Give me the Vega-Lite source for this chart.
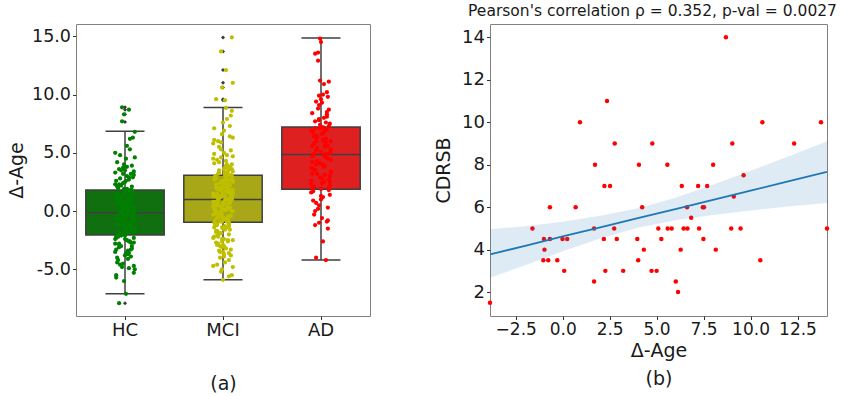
{
  "$schema": "https://vega.github.io/schema/vega-lite/v6.json",
  "padding": {"left": 7, "top": 3, "right": 0, "bottom": 0},
  "background": "white",
  "spacing": 120,
  "bounds": "flush",
  "config": {
    "font": "DejaVu Sans",
    "view": {"stroke": "#808080", "strokeWidth": 1},
    "axis": {"labelFont": "DejaVu Sans", "titleFont": "DejaVu Sans", "labelColor": "#1a1a1a", "titleColor": "#1a1a1a", "titleFontWeight": "normal", "grid": false, "domain": false, "tickColor": "#333", "tickSize": 3.5, "labelPadding": 2}
  },
  "datasets": {
    "box": [
      {"g": "HC", "q1": -2.05, "med": -0.15, "q3": 1.8, "lo": -7.1, "hi": 6.85},
      {"g": "MCI", "q1": -0.95, "med": 1.0, "q3": 3.08, "lo": -5.9, "hi": 8.88},
      {"g": "AD", "q1": 1.88, "med": 4.85, "q3": 7.22, "lo": -4.2, "hi": 14.85}
    ],
    "out": [
      {"g": "HC", "v": 8.9}, {"g": "HC", "v": 8.7}, {"g": "HC", "v": 8.3}, {"g": "HC", "v": 7.65}, {"g": "HC", "v": -7.9},
      {"g": "MCI", "v": 9.5}, {"g": "MCI", "v": 9.6}, {"g": "MCI", "v": 10.6}, {"g": "MCI", "v": 11.0}, {"g": "MCI", "v": 12.1}, {"g": "MCI", "v": 13.7}, {"g": "MCI", "v": 14.9}
    ],
    "pts": [
      {"g": "HC", "v": [-0.2, 1.5, -2.3, 3.2, -1.1, 0.6, -3.8, 2.1, -0.7, 4.5, -2.8, 0.9, -4.6, 1.2, -1.6, 2.9, -0.4, 5.6, -3.1, 0.3, -1.9, 1.8, -5.7, 0.1, -2.6, 3.6, -0.9, 2.4, -4.1, 1.0, -1.3, 6.3, -2.1, 0.5, -3.5, 3.0, -0.1, -4.9, 1.4, -1.7],
       "j": [3,-7,9,-2,5,-9,0,7,-4,1,-10,6,-5,8,-1,4,-8,2,-6,10,-3,7,-9,1,5,-6,9,-2,3,-7,0,8,-4,6,-10,2,-5,4,-1,10]},
      {"g": "HC", "v": [0.8, -2.5, 2.6, -0.5, 4.0, -3.3, 1.1, -1.0, 6.8, -2.0, 0.2, -4.4, 1.7, -0.3, 3.4, -2.9, 0.4, -1.4, 5.0, -3.7, 2.2, -0.8, -6.0, 1.3, -2.2, 3.8, -1.2, 0.0, -4.8, 2.7, -0.6, 1.6, -3.0, 4.8, -1.8, 0.7, -5.3, 2.0, -2.4, 6.2],
       "j": [-5,2,-9,8,-1,6,-7,4,10,-3,1,-8,5,-2,9,-6,0,7,-10,3,-4,8,-1,6,-9,2,-6,10,-3,4,-8,1,7,-5,3,-2,9,-7,0,5]},
      {"g": "HC", "v": [-0.9, 1.9, -3.6, 0.6, -1.5, 3.3, -2.7, 1.0, -0.2, 2.5, -4.2, 0.9, -1.1, 3.1, -2.0, 5.3, -0.5, 1.5, -3.2, 0.3, -5.0, 2.3, -1.7, 4.2, -2.6, 0.1, -0.4, 2.8, -3.9, 1.2, -7.1, 0.5, -1.3, 3.5, -2.3, 1.8, -4.5, -0.7, 2.0, -1.9],
       "j": [10,-1,4,-5,2,-10,6,-4,8,0,-7,3,-2,9,-6,5,1,-9,7,-3,10,-6,2,-8,4,-1,8,-5,6,-10,1,-4,7,0,-9,5,-2,9,-7,3]},
      {"g": "HC", "v": [0.2, -2.1, 1.4, -0.6, 3.7, -3.4, 0.8, -1.6, 2.6, -4.0, 1.1, -0.1, 4.6, -2.8, 0.6, -5.5, 1.7, -1.0, 2.9, -3.0, 0.0, -2.4, 3.9, -0.8, 1.3, -4.7, 0.4, -1.2, 2.1, -3.6, 7.7, -1.4, 0.9, -2.2, 3.2, -0.3, 1.6, -3.3, 0.7, -1.8],
       "j": [5,0,-7,9,-2,3,-5,7,1,-8,4,-3,10,-6,2,-9,6,-1,8,-4,3,-10,7,0,-6,9,-2,5,-8,1,-3,10,4,-7,6,-1,8,-9,2,-5]},
      {"g": "HC", "v": [8.9, 8.7, 8.3, -7.9, 0.4, -1.1, 1.9, -2.7, 3.5, -0.3, 2.3, -1.5],
       "j": [-3,4,-1,-6,7,-8,2,9,-4,6,-10,1]},
      {"g": "MCI", "v": [1.0, -1.2, 2.8, 0.3, -2.5, 4.1, 1.6, -0.4, 3.3, -3.7, 0.8, 2.2, -1.8, 5.2, 0.1, -0.9, 3.0, 1.3, -4.6, 2.5, -0.2, 6.4, 0.6, -1.5, 1.9, -2.9, 3.6, 0.4, -0.7, 2.0, 7.6, -3.3, 1.1, -1.0, 4.5, 0.9, -2.1, 2.7, -5.0, 1.4],
       "j": [3,-7,9,-2,5,-9,0,7,-4,1,-10,6,-5,8,-1,4,-8,2,-6,10,-3,7,-9,1,5,-6,9,-2,3,-7,0,8,-4,6,-10,2,-5,4,-1,10]},
      {"g": "MCI", "v": [0.5, 3.2, -1.4, 1.8, -0.3, 2.4, -2.7, 4.8, 0.0, 1.2, -3.9, 2.9, -0.8, 5.9, 1.5, -1.9, 0.7, 3.8, -2.3, 1.0, -0.5, 8.2, 2.1, -4.2, 0.2, 2.6, -1.1, 3.4, -3.0, 1.7, -0.1, 6.9, 0.8, -2.0, 4.3, 1.3, -5.5, 2.3, -0.6, 3.1],
       "j": [-5,2,-9,8,-1,6,-7,4,10,-3,1,-8,5,-2,9,-6,0,7,-10,3,-4,8,-1,6,-9,2,-6,10,-3,4,-8,1,7,-5,3,-2,9,-7,0,5]},
      {"g": "MCI", "v": [1.6, -0.9, 2.0, -2.2, 3.7, 0.4, -1.3, 5.5, 1.1, -3.5, 2.8, 0.1, -0.4, 4.0, 1.9, -2.6, 0.6, 7.1, -1.6, 2.4, -4.8, 1.2, 3.0, -0.2, 2.2, -3.1, 0.9, 6.0, -1.0, 1.5, -2.4, 3.5, 0.3, -5.9, 2.7, -0.7, 4.6, 1.0, -1.8, 8.85],
       "j": [10,-1,4,-5,2,-10,6,-4,8,0,-7,3,-2,9,-6,5,1,-9,7,-3,10,-6,2,-8,4,-1,8,-5,6,-10,1,-4,7,0,-9,5,-2,9,-7,3]},
      {"g": "MCI", "v": [0.2, 2.5, -1.7, 1.4, -0.1, 3.9, -2.8, 0.7, 5.0, -1.2, 2.1, -4.0, 1.8, -0.6, 3.3, 0.5, -2.0, 6.6, 1.0, -3.4, 2.9, -0.3, 1.6, -1.5, 4.4, 0.0, -5.2, 2.3, -0.8, 3.6, 1.2, -2.5, 7.9, 0.8, -1.1, 2.6, -3.8, 1.3, 9.5, -0.5],
       "j": [5,0,-7,9,-2,3,-5,7,1,-8,4,-3,10,-6,2,-9,6,-1,8,-4,3,-10,7,0,-6,9,-2,5,-8,1,-3,10,4,-7,6,-1,8,-9,2,-5]},
      {"g": "MCI", "v": [1.7, -0.2, 3.0, -1.9, 0.6, 4.9, -2.9, 1.1, 2.0, -0.7, 5.8, -3.6, 0.9, 2.7, -1.4, 3.8, 0.4, -4.4, 1.5, 6.3, -0.9, 2.2, -2.2, 0.1, 3.4, -1.2, 8.6, 1.9, -3.2, 0.6, 2.5, -0.4, 4.2, -5.6, 1.3, -1.6, 3.2, 0.3, 10.6, 11.0],
       "j": [3,-7,9,-2,5,-9,0,7,-4,1,-10,6,-5,8,-1,4,-8,2,-6,10,-3,7,-9,1,5,-6,9,-2,3,-7,0,8,-4,6,-10,2,-5,4,-1,10]},
      {"g": "MCI", "v": [0.9, 2.3, -1.0, 1.4, -2.4, 3.6, 0.0, -0.8, 4.7, 1.8, -3.0, 2.8, -0.5, 5.3, 1.2, -1.7, 0.5, 7.3, -4.7, 2.1, -0.1, 3.1, -2.6, 1.6, 6.1, -1.3, 0.7, 2.6, -3.5, 4.0, 0.2, -0.6, 1.0, -2.1, 12.1, 13.7, 14.9, 9.6, 2.0, -1.4],
       "j": [-5,2,-9,8,-1,6,-7,4,10,-3,1,-8,5,-2,9,-6,0,7,-10,3,-4,8,-1,6,-9,2,-6,10,-3,4,-8,1,7,-5,3,-2,9,-7,0,5]},
      {"g": "AD", "v": [4.8, 2.1, 7.5, 0.5, 5.9, 3.2, 9.6, -0.8, 6.4, 4.0, 1.6, 8.3, 5.2, 2.7, 11.2, 6.9, 3.6, -2.6, 7.1, 4.4, 0.2, 9.8, 5.6, 2.4, 6.2, 13.5, 3.0, -1.0, 8.0, 4.9, 1.9, 7.3, 5.4, 10.2, 2.6, 6.7, -4.0, 3.9, 14.8, 5.0],
       "j": [3,-7,9,-2,5,-9,0,7,-4,1,-10,6,-5,8,-1,4,-8,2,-6,10,-3,7,-9,1,5,-6,9,-2,3,-7,0,8,-4,6,-10,2,-5,4,-1,10]},
      {"g": "AD", "v": [6.0, 1.2, 4.2, 8.7, 2.9, 7.0, -0.3, 5.7, 3.4, 12.9, 6.6, 0.9, 4.6, 9.1, 2.2, 7.7, 5.1, -1.5, 3.7, 10.9, 6.3, 1.8, 4.1, 8.5, 2.0, 7.2, 0.0, 5.3, 13.6, 3.1, 6.8, -0.6, 4.5, 9.4, 2.5, 7.9, 1.4, 5.8, 14.5, -4.2],
       "j": [-5,2,-9,8,-1,6,-7,4,10,-3,1,-8,5,-2,9,-6,0,7,-10,3,-4,8,-1,6,-9,2,-6,10,-3,4,-8,1,7,-5,3,-2,9,-7,0,5]},
      {"g": "AD", "v": [3.3, 7.4, 5.5, 0.7, 6.1, 2.3, 8.1, 4.3, 11.1, 1.0, 6.5, 3.8, 9.9, 5.0, -1.2, 7.6, 2.8, 4.7, 0.3, 8.8, 6.0, 3.5, 10.0, 1.7, 5.9, 7.1, 2.0, 4.0, -0.9, 6.9, 9.3, 3.2, 5.6, 1.3, 8.4, 4.9, 7.8, 2.5, 6.4, 3.9],
       "j": [10,-1,4,-5,2,-10,6,-4,8,0,-7,3,-2,9,-6,5,1,-9,7,-3,10,-6,2,-8,4,-1,8,-5,6,-10,1,-4,7,0,-9,5,-2,9,-7,3]}
    ],
    "sc": [
      {"x": 8.69, "y": 14}, {"x": 2.36, "y": 11},
      {"x": 0.92, "y": 10}, {"x": 10.63, "y": 10}, {"x": 13.75, "y": 10},
      {"x": 2.77, "y": 9}, {"x": 4.77, "y": 9}, {"x": 9.03, "y": 9}, {"x": 12.32, "y": 9},
      {"x": 1.72, "y": 8}, {"x": 4.06, "y": 8}, {"x": 5.57, "y": 8}, {"x": 8.01, "y": 8},
      {"x": 9.63, "y": 7.5},
      {"x": 2.22, "y": 7}, {"x": 2.52, "y": 7}, {"x": 6.34, "y": 7}, {"x": 7.21, "y": 7}, {"x": 7.69, "y": 7},
      {"x": 9.11, "y": 6.5},
      {"x": -0.68, "y": 6}, {"x": 0.69, "y": 6}, {"x": 4.23, "y": 6}, {"x": 6.62, "y": 6}, {"x": 7.46, "y": 6}, {"x": 7.52, "y": 6},
      {"x": 6.84, "y": 5.5},
      {"x": -1.61, "y": 5}, {"x": 1.67, "y": 5}, {"x": 2.74, "y": 5}, {"x": 5.09, "y": 5}, {"x": 5.59, "y": 5}, {"x": 5.8, "y": 5}, {"x": 6.44, "y": 5}, {"x": 6.64, "y": 5}, {"x": 7.26, "y": 5}, {"x": 8.97, "y": 5}, {"x": 9.47, "y": 5}, {"x": 14.07, "y": 5},
      {"x": -1.0, "y": 4.5}, {"x": -0.68, "y": 4.5}, {"x": -0.01, "y": 4.5}, {"x": 0.24, "y": 4.5}, {"x": 2.19, "y": 4.5}, {"x": 2.88, "y": 4.5}, {"x": 3.97, "y": 4.5}, {"x": 5.25, "y": 4.5}, {"x": 7.49, "y": 4.5},
      {"x": -0.97, "y": 4}, {"x": 4.32, "y": 4}, {"x": 6.28, "y": 4}, {"x": 8.15, "y": 4},
      {"x": -1.03, "y": 3.5}, {"x": -0.77, "y": 3.5}, {"x": -0.29, "y": 3.5}, {"x": 4.02, "y": 3.5}, {"x": 10.52, "y": 3.5},
      {"x": 0.08, "y": 3}, {"x": 2.27, "y": 3}, {"x": 3.22, "y": 3}, {"x": 4.73, "y": 3}, {"x": 5.0, "y": 3},
      {"x": 1.67, "y": 2.5}, {"x": 6.02, "y": 2.5},
      {"x": 6.14, "y": 2},
      {"x": -3.87, "y": 1.5}
    ],
    "band": [
      {"x": -3.87, "fit": 3.78, "lo": 2.68, "hi": 4.96},
      {"x": -2, "fit": 4.18, "lo": 3.26, "hi": 5.1},
      {"x": 0, "fit": 4.62, "lo": 3.92, "hi": 5.31},
      {"x": 2, "fit": 5.05, "lo": 4.53, "hi": 5.6},
      {"x": 4, "fit": 5.48, "lo": 5.03, "hi": 5.95},
      {"x": 6, "fit": 5.91, "lo": 5.38, "hi": 6.44},
      {"x": 8, "fit": 6.34, "lo": 5.63, "hi": 7.06},
      {"x": 10, "fit": 6.78, "lo": 5.84, "hi": 7.71},
      {"x": 12, "fit": 7.21, "lo": 6.03, "hi": 8.39},
      {"x": 14.07, "fit": 7.66, "lo": 6.2, "hi": 9.1}
    ]
  },
  "hconcat": [
    {
      "width": 294,
      "height": 292,
      "resolve": {"scale": {"color": "independent", "xOffset": "independent"}},
      "encoding": {
        "x": {"field": "g", "type": "nominal", "sort": ["HC", "MCI", "AD"], "scale": {"domain": ["HC", "MCI", "AD"], "paddingInner": 0, "paddingOuter": 0},
              "axis": {"title": "(a)", "labelAngle": 0, "labelFontSize": 18, "titleFontSize": 19, "titlePadding": 35, "labelPadding": 2}}
      },
      "layer": [
        {
          "data": {"name": "box"},
          "mark": {"type": "rule", "color": "#3f3f3f", "strokeWidth": 1.5},
          "encoding": {
            "y": {"field": "lo", "type": "quantitative", "scale": {"domain": [-9.0, 16.05], "nice": false, "zero": false},
                  "axis": {"title": "Δ-Age", "values": [-5, 0, 5, 10, 15], "format": ".1f", "labelExpr": "replace(datum.label, '−', '-')", "labelFontSize": 17.5, "titleFontSize": 19, "titlePadding": 5}},
            "y2": {"field": "hi"}
          }
        },
        {
          "data": {"name": "box"},
          "mark": {"type": "bar", "width": {"band": 0.8}, "stroke": "#3f3f3f", "strokeWidth": 1.5, "opacity": 1},
          "encoding": {
            "y": {"field": "q1", "type": "quantitative"},
            "y2": {"field": "q3"},
            "color": {"field": "g", "type": "nominal", "scale": {"domain": ["HC", "MCI", "AD"], "range": ["#107010", "#a7a718", "#df2020"]}, "legend": null}
          }
        },
        {
          "data": {"name": "box"},
          "mark": {"type": "tick", "size": 78, "thickness": 1.5, "color": "#3f3f3f", "opacity": 1},
          "encoding": {"y": {"field": "med", "type": "quantitative"}}
        },
        {
          "data": {"name": "box"},
          "mark": {"type": "tick", "size": 39, "thickness": 1.5, "color": "#3f3f3f", "opacity": 1},
          "encoding": {"y": {"field": "lo", "type": "quantitative"}}
        },
        {
          "data": {"name": "box"},
          "mark": {"type": "tick", "size": 39, "thickness": 1.5, "color": "#3f3f3f", "opacity": 1},
          "encoding": {"y": {"field": "hi", "type": "quantitative"}}
        },
        {
          "data": {"name": "out"},
          "mark": {"type": "point", "shape": "diamond", "filled": true, "color": "#3a3a3a", "size": 16, "opacity": 1},
          "encoding": {"y": {"field": "v", "type": "quantitative"}}
        },
        {
          "data": {"name": "pts"},
          "transform": [{"flatten": ["v", "j"]}, {"filter": "datum.v != null"}],
          "mark": {"type": "circle", "size": 18, "opacity": 1},
          "encoding": {
            "xOffset": {"field": "j", "type": "quantitative", "scale": {"domain": [-50, 50]}},
            "y": {"field": "v", "type": "quantitative"},
            "color": {"field": "g", "type": "nominal", "scale": {"domain": ["HC", "MCI", "AD"], "range": ["#008000", "#bfbf00", "#ff0000"]}, "legend": null}
          }
        }
      ]
    },
    {
      "width": 337,
      "height": 292,
      "title": {"text": "Pearson's correlation ρ = 0.352, p-val = 0.0027", "fontSize": 15.5, "font": "DejaVu Sans", "fontWeight": "normal", "color": "#1a1a1a", "offset": 5, "anchor": "middle", "dx": -6},
      "encoding": {
        "x": {"field": "x", "type": "quantitative", "scale": {"domain": [-3.87, 14.07], "nice": false, "zero": false},
              "axis": {"title": ["Δ-Age", "(b)"], "values": [-2.5, 0, 2.5, 5, 7.5, 10, 12.5], "format": ".1f", "labelFontSize": 17, "titleFontSize": 19, "titlePadding": 4, "titleLineHeight": 28, "labelPadding": 2}}
      },
      "layer": [
        {
          "data": {"name": "sc"},
          "mark": {"type": "circle", "color": "#ff0000", "size": 20, "opacity": 1},
          "encoding": {
            "y": {"field": "y", "type": "quantitative", "scale": {"domain": [0.875, 14.625], "nice": false, "zero": false},
                  "axis": {"title": "CDRSB", "values": [2, 4, 6, 8, 10, 12, 14], "labelFontSize": 18, "titleFontSize": 19, "titlePadding": 8}}
          }
        },
        {
          "data": {"name": "band"},
          "mark": {"type": "area", "color": "#1f77b4", "opacity": 0.15, "clip": true},
          "encoding": {"y": {"field": "lo", "type": "quantitative"}, "y2": {"field": "hi"}}
        },
        {
          "data": {"name": "band"},
          "mark": {"type": "line", "color": "#1f77b4", "strokeWidth": 1.8, "clip": true},
          "encoding": {"y": {"field": "fit", "type": "quantitative"}}
        }
      ]
    }
  ]
}
